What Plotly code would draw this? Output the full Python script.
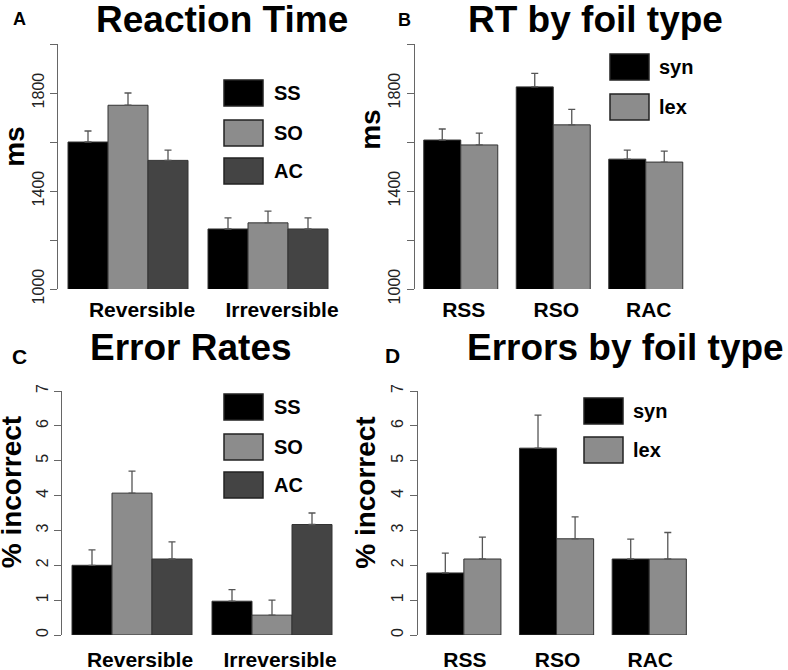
import plotly.graph_objects as go

W, H = 788, 670
FONT = "Liberation Sans, Arial, sans-serif"

# Panel A: reaction time by sentence type
rt_groups = ["Reversible", "Irreversible"]
sent_names = ["SS", "SO", "AC"]
rt_ss = [1600, 1245]
rt_so = [1750, 1270]
rt_ac = [1525, 1245]
rt_ss_se = [45, 45]
rt_so_se = [50, 48]
rt_ac_se = [42, 45]

# Panel B: reaction time by foil type
foil_groups = ["RSS", "RSO", "RAC"]
foil_names = ["syn", "lex"]
rt_syn = [1608, 1825, 1530]
rt_lex = [1588, 1670, 1518]
rt_syn_se = [45, 55, 37]
rt_lex_se = [48, 63, 45]

# Panel C: error rates by sentence type
err_ss = [2.0, 0.97]
err_so = [4.07, 0.57]
err_ac = [2.18, 3.17]
err_ss_se = [0.44, 0.33]
err_so_se = [0.63, 0.43]
err_ac_se = [0.49, 0.33]

# Panel D: error rates by foil type
err_syn = [1.78, 5.36, 2.18]
err_lex = [2.18, 2.76, 2.18]
err_syn_se = [0.57, 0.95, 0.57]
err_lex_se = [0.63, 0.63, 0.76]

rt_ticks = [1000, 1200, 1400, 1600, 1800, 2000]
rt_ticktext = ["1000", "", "1400", "", "1800", ""]
err_ticks = [0, 1, 2, 3, 4, 5, 6, 7]

sent_colors = ["#000000", "#8c8c8c", "#444444"]
foil_colors = ["#000000", "#8c8c8c"]


def px_x(x):
    return x / W


def px_y(y):
    return 1 - y / H


def add_bars(fig, groups, values, errors, names, colors, xaxis, yaxis, fill):
    n = len(values)
    w = fill / n
    for i, (vals, errs, name, col) in enumerate(zip(values, errors, names, colors)):
        fig.add_trace(
            go.Bar(
                x=groups,
                y=vals,
                name=name,
                width=w,
                offset=-fill / 2 + i * w,
                marker={"color": col, "line": {"color": "#333333", "width": 1}},
                error_y={
                    "type": "data",
                    "symmetric": False,
                    "array": errs,
                    "arrayminus": [0] * len(errs),
                    "color": "#555555",
                    "thickness": 1.3,
                    "width": 3.5,
                },
                xaxis=xaxis,
                yaxis=yaxis,
                showlegend=False,
            )
        )


def add_text(fig, text, x, y, size, angle=0, anchor="center"):
    # rotated words sit mostly in the x-height band, so nudge them
    if angle != 0:
        x = x - 0.15 * size
    fig.add_annotation(
        text=text,
        xref="paper",
        yref="paper",
        x=px_x(x),
        y=px_y(y),
        xanchor=anchor,
        yanchor="middle",
        textangle=angle,
        showarrow=False,
        font={"family": FONT, "size": size, "color": "#000000", "weight": "bold"},
    )


def add_legend(fig, names, colors, x0, tops, text_x):
    for name, col, top in zip(names, colors, tops):
        fig.add_shape(
            type="rect",
            xref="paper",
            yref="paper",
            x0=px_x(x0),
            x1=px_x(x0 + 39),
            y0=px_y(top + 26),
            y1=px_y(top),
            fillcolor=col,
            line={"color": "#222222", "width": 1.5},
        )
        add_text(fig, name, text_x, top + 13, 20, anchor="left")


fig = go.Figure()

add_bars(fig, rt_groups, [rt_ss, rt_so, rt_ac], [rt_ss_se, rt_so_se, rt_ac_se],
         sent_names, sent_colors, "x", "y", 6 / 7)
add_bars(fig, foil_groups, [rt_syn, rt_lex], [rt_syn_se, rt_lex_se],
         foil_names, foil_colors, "x2", "y2", 0.8)
add_bars(fig, rt_groups, [err_ss, err_so, err_ac], [err_ss_se, err_so_se, err_ac_se],
         sent_names, sent_colors, "x3", "y3", 6 / 7)
add_bars(fig, foil_groups, [err_syn, err_lex], [err_syn_se, err_lex_se],
         foil_names, foil_colors, "x4", "y4", 0.8)

add_legend(fig, sent_names, sent_colors, 224, [80, 120, 158], 272)
add_legend(fig, foil_names, foil_colors, 610, [54, 94], 657)
add_legend(fig, sent_names, sent_colors, 224, [394, 434, 472], 272)
add_legend(fig, foil_names, foil_colors, 584, [398, 437], 631)

add_text(fig, "Reaction Time", 222, 19.5, 37)
add_text(fig, "RT by foil type", 595, 19.5, 37)
add_text(fig, "Error Rates", 191, 347.5, 37)
add_text(fig, "Errors by foil type", 625, 347.5, 37)
add_text(fig, "A", 19.5, 19, 18)
add_text(fig, "B", 404, 19.5, 18)
add_text(fig, "C", 19.5, 356, 21)
add_text(fig, "D", 392.5, 355.5, 21)
add_text(fig, "ms", 18, 147, 28, -90)
add_text(fig, "ms", 374, 130, 28, -90)
add_text(fig, "% incorrect", 15.5, 492, 28, -90)
add_text(fig, "% incorrect", 369, 492, 28, -90)

xcommon = {
    "showline": False,
    "showgrid": False,
    "zeroline": False,
    "automargin": False,
    "ticks": "",
    "type": "category",
    "tickfont": {"family": FONT, "size": 21, "color": "#000000", "weight": "bold"},
}
ycommon = {
    "showline": True,
    "linecolor": "#666666",
    "linewidth": 1,
    "showgrid": False,
    "zeroline": False,
    "automargin": False,
    "ticks": "outside",
    "ticklen": 7,
    "tickcolor": "#666666",
    "tickangle": -90,
    "tickfont": {"family": FONT, "size": 16, "color": "#222222"},
}

fig.update_layout(
    width=W,
    height=H,
    margin={"l": 0, "r": 0, "t": 0, "b": 0},
    paper_bgcolor="white",
    plot_bgcolor="white",
    barmode="overlay",
    xaxis={**xcommon, "domain": [px_x(58), px_x(338)], "range": [-0.5, 1.5],
           "anchor": "y", "ticklabelshift": 14, "ticklabelstandoff": 6},
    yaxis={**ycommon, "domain": [px_y(289), px_y(44)], "range": [1000, 2000],
           "anchor": "x", "tickvals": rt_ticks, "ticktext": rt_ticktext},
    xaxis2={**xcommon, "domain": [px_x(414.5), px_x(414.5 + 3 * 92.5)],
            "range": [-0.5, 2.5], "anchor": "y2", "ticklabelshift": 3,
            "ticklabelstandoff": 6},
    yaxis2={**ycommon, "domain": [px_y(289), px_y(44)], "range": [1000, 2000],
            "anchor": "x2", "tickvals": rt_ticks, "ticktext": rt_ticktext},
    xaxis3={**xcommon, "domain": [px_x(62), px_x(342)], "range": [-0.5, 1.5],
            "anchor": "y3", "ticklabelshift": 8, "ticklabelstandoff": 10},
    yaxis3={**ycommon, "domain": [px_y(635), px_y(391)], "range": [0, 7],
            "anchor": "x3", "tickvals": err_ticks},
    xaxis4={**xcommon, "domain": [px_x(417.5), px_x(417.5 + 3 * 92.7)],
            "range": [-0.5, 2.5], "anchor": "y4", "ticklabelshift": 1,
            "ticklabelstandoff": 10},
    yaxis4={**ycommon, "domain": [px_y(635), px_y(391)], "range": [0, 7],
            "anchor": "x4", "tickvals": err_ticks},
)

# drop the browser's default body margin so the figure fills the window
fig.write_html(
    "out.html",
    config={"displayModeBar": False},
    post_script="document.body.style.margin = '0';",
)
